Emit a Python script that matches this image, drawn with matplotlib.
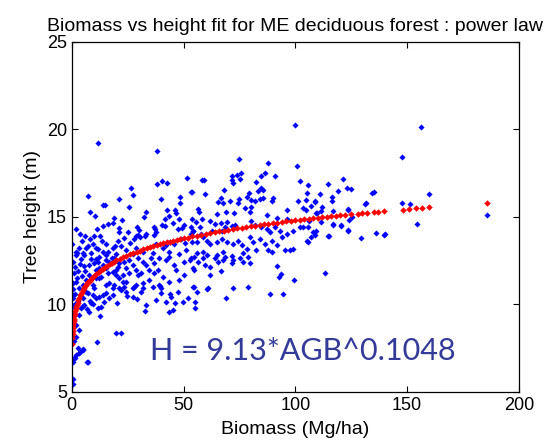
import matplotlib
matplotlib.use('Agg')
import matplotlib.pyplot as plt

plt.rcParams['font.family'] = ['Liberation Sans', 'DejaVu Sans']

# Datos observados (biomasa en Mg/ha, altura en m)
biomass = [
    11.9, 38.1, 99.7, 156.4, 147.6, 159.7, 147.6, 151.3, 154.2, 185.5,
    74.8, 87.6, 100.8, 121.4, 114.4, 51.7,
    38.1, 40.2, 42.6, 26.7, 27.4, 7.4, 53.3, 21.3, 40.1, 48.4,
    48.6, 14.9, 25.8, 8.2, 10.3, 33.1, 32.2, 42.6, 46.0, 46.8,
    43.3, 41.5, 18.9, 13.8, 16.1, 18.3, 22.6, 21.1, 21.3, 29.3,
    30.2, 29.8, 30.5, 33.2, 32.6, 36.8, 37.4, 37.8, 36.6, 40.6,
    41.8, 45.4, 47.8, 49.3, 50.2, 47.5, 53.3, 54.2, 9.8, 8.3,
    7.4, 10.9, 11.6, 9.7, 6.4, 0.3, 3.4, 15.3, 18.3, 19.4,
    16.2, 19.6, 17.9, 23.5, 28.6, 28.0, 37.7, 40.7, 42.2, 43.9,
    45.9, 48.9, 50.8, 53.2, 53.8,
    28.7, 31.7, 27.2, 36.5, 43.6, 48.1, 51.1, 8.6, 5.6, 12.4,
    15.3, 1.9, 39.2, 54.8,
    75.5, 73.7, 71.5, 71.9, 75.2, 72.3, 86.3, 84.5, 82.3, 84.5,
    83.4, 85.4, 85.7, 84.2, 81.9, 80.1, 79.1, 80.4, 79.7, 90.9,
    102.3, 105.7, 105.3, 104.6, 101.2, 104.7, 103.3, 108.8, 109.5, 107.1,
    58.3, 59.3, 53.8, 59.4, 68.2, 66.7, 65.4, 67.6, 70.9, 68.8,
    72.7, 74.9, 74.5, 77.3, 78.5, 90.1, 89.7, 96.4, 96.4, 91.9,
    87.4, 56.7, 56.9, 54.0, 58.3, 55.7, 57.4, 57.6, 54.2, 61.8,
    63.9, 66.6, 64.8, 69.3, 71.5, 73.0, 67.0, 68.5, 62.9, 80.3,
    82.1, 84.5, 87.4, 88.6, 90.9, 93.1, 96.1, 99.0, 102.0, 106.2,
    105.7, 108.0, 106.8, 105.0, 103.5, 58.8, 60.3, 55.9, 61.8, 64.8,
    67.0, 69.3, 72.3, 74.5, 76.0, 79.7, 81.2, 84.2, 86.4, 89.4,
    91.7, 93.9, 97.6, 99.1, 95.4, 58.8, 60.3, 55.9, 64.8, 67.8,
    71.5, 76.7, 78.5, 82.3, 87.6, 89.7,
    111.0, 118.9, 123.2, 124.8, 134.1, 135.3, 116.2, 116.2, 131.4, 108.7,
    112.0, 111.4, 116.9, 123.6, 109.2, 111.3, 116.7, 120.4, 124.1, 125.5,
    123.6, 109.3, 109.0, 114.7, 129.3, 136.2, 140.0, 139.8,
    113.2, 105.8, 115.1, 123.4, 131.1, 116.9, 120.6, 123.6,
    55.2, 54.9, 60.9, 66.9, 61.8, 68.8, 72.2, 78.8, 88.6, 94.6,
    91.9, 93.4, 92.8, 99.6,
    52.9, 54.4, 56.6, 58.8, 59.6, 61.8, 64.0, 65.5, 67.8, 68.5,
    71.5, 72.2, 75.2, 76.7, 78.9, 79.7,
    0.45, 0.45, 7.1, 4.9, 3.1, 1.9, 1.2, 0.7, 11.2, 19.8,
    22.0, 1.0, 1.9, 3.1, 1.9, 1.2, 0.5, 0.1, 1.6, 0.4,
    12.6, 32.8, 55.1, 46.2, 43.9, 39.5, 29.0, 24.6, 20.1, 5.2,
    6.7, 8.2, 9.7, 55.9, 60.3, 2.9, 3.7, 5.2, 1.5, 6.7,
    8.6, 10.1, 7.9, 11.6, 13.8, 12.4, 15.3, 16.8, 19.1, 21.3,
    20.5, 23.5, 25.8, 27.2, 29.5, 31.7, 33.2, 35.4, 36.9, 38.4,
    42.1, 43.6, 45.9, 46.6, 50.4, 53.3, 54.8, 54.1, 50.4, 48.1,
    34.7, 31.0, 28.7, 25.8, 22.8, 21.3, 18.3, 16.1, 13.1, 10.9,
    6.4, 4.9, 3.4, 1.9, 5.6, 7.1, 10.1, 15.3, 19.1, 22.0,
    24.3, 28.0, 31.7, 36.2, 39.9, 43.6, 47.4, 51.8, 49.6, 31.0,
    27.2, 18.3, 14.6, 16.8,
    3.4, 4.2, 5.6, 4.9, 7.9, 8.6, 6.4, 9.4, 10.9, 12.4,
    13.8, 15.3, 11.6, 13.1, 21.3, 23.5, 24.3, 27.2, 28.7, 29.5,
    33.2, 39.2, 39.9, 42.1, 43.6, 45.1, 44.4, 37.7, 31.7, 34.7,
    36.9, 40.7, 16.8, 18.3, 19.8, 22.8, 12.4, 9.4, 7.9, 10.9,
    15.3, 19.8, 24.3,
    0.7, 1.5, 0.7, 1.5, 0.7, 2.5, 1.0, 2.2, 3.0, 0.8,
    2.8, 1.3, 4.0, 5.5, 6.0, 4.5, 2.0, 3.8,
    4.5, 6.0, 12.5, 13.5, 5.0, 11.0, 14.0, 20.5, 22.0, 24.5,
    26.0, 25.0, 11.5, 3.8, 2.0, 14.1,
]
height = [
    19.23, 18.77, 20.24, 20.10, 18.40, 16.30, 15.77, 15.70, 14.57, 15.10,
    18.28, 18.05, 17.88, 17.15, 16.87, 17.23,
    16.85, 17.05, 16.90, 16.62, 16.22, 16.16, 16.40, 16.03, 16.03, 16.14,
    15.80, 15.68, 15.57, 15.29, 15.04, 15.25, 15.00, 15.38, 15.36, 15.19,
    15.04, 14.85, 14.95, 14.48, 14.61, 14.65, 14.80, 14.33, 14.12, 14.44,
    14.22, 13.95, 13.82, 13.99, 13.91, 14.44, 14.28, 14.10, 13.95, 14.53,
    14.48, 14.63, 14.86, 14.38, 14.55, 14.29, 14.42, 14.20, 13.87, 13.72,
    13.34, 13.24, 13.15, 13.43, 13.24, 13.43, 13.24, 13.43, 13.19, 13.30,
    12.96, 12.89, 12.66, 13.79, 13.89, 13.72, 13.43, 13.24, 13.37, 13.55,
    13.45, 13.70, 13.51, 13.99, 13.55,
    13.19, 13.00, 12.87, 12.91, 13.00, 12.87, 13.10, 12.91, 12.81, 12.71,
    12.81, 12.81, 12.62, 12.71,
    17.50, 17.41, 17.31, 17.12, 17.16, 16.93, 17.50, 17.31, 16.99, 16.65,
    16.46, 16.52, 16.08, 15.99, 15.89, 15.95, 16.33, 15.54, 15.29, 17.31,
    17.06, 16.83, 16.35, 15.93, 15.91, 15.40, 15.50, 15.87, 15.20, 15.63,
    17.08, 17.12, 16.44, 16.27, 16.52, 16.08, 15.85, 15.80, 15.91, 15.29,
    15.23, 16.00, 15.77, 15.50, 16.14, 16.08, 15.89, 15.40, 14.87, 14.93,
    15.12, 15.44, 15.25, 14.87, 14.87, 14.68, 14.40, 14.02, 14.21, 14.78,
    14.59, 14.63, 15.16, 14.68, 14.49, 14.53, 14.21, 14.40, 14.21, 14.78,
    14.55, 14.40, 14.30, 14.12, 14.40, 14.21, 14.02, 14.21, 14.40, 14.78,
    14.40, 14.12, 13.83, 13.64, 14.40, 13.83, 13.64, 13.55, 13.45, 13.55,
    13.75, 13.55, 13.45, 13.64, 13.36, 13.83, 13.55, 13.75, 13.45, 13.64,
    13.36, 13.83, 13.07, 13.17, 13.07, 13.00, 12.80, 12.90, 12.80, 13.00,
    12.75, 12.90, 13.17, 13.07, 13.10, 13.00,
    16.28, 16.47, 16.62, 16.56, 16.37, 16.41, 16.14, 15.87, 15.76, 15.85,
    15.53, 15.34, 15.32, 15.44, 15.20, 14.68, 14.53, 14.46, 14.84, 15.01,
    14.21, 14.21, 13.93, 13.87, 13.77, 14.08, 14.02, 13.95,
    11.80, 13.57, 13.90, 14.24, 15.72, 14.58, 14.52, 15.41,
    10.11, 10.96, 10.90, 11.91, 11.67, 10.33, 10.90, 10.96, 10.56, 10.56,
    12.20, 11.71, 11.57, 11.38,
    12.52, 12.05, 12.43, 12.62, 12.24, 12.14, 12.62, 12.43, 12.52, 12.71,
    12.33, 12.52, 12.62, 12.43, 12.71, 12.33,
    5.73, 5.44, 6.71, 7.43, 7.20, 7.10, 6.91, 6.71, 7.83, 8.37,
    8.37, 7.87, 8.15, 8.53, 8.82, 9.10, 9.39, 9.96, 9.77, 10.53,
    9.33, 9.62, 9.81, 10.09, 10.57, 11.05, 10.28, 10.47, 10.09, 9.90,
    9.71, 10.19, 10.00, 10.67, 10.86, 7.48, 7.29, 7.38, 6.91, 6.72,
    12.58, 12.33, 12.24, 12.43, 12.24, 12.05, 12.52, 12.43, 12.62, 12.33,
    12.14, 12.43, 12.52, 12.24, 12.62, 12.43, 12.24, 12.62, 12.33, 11.95,
    12.52, 12.71, 12.24, 11.95, 12.43, 12.62, 11.95, 11.00, 11.67, 11.38,
    11.95, 11.76, 11.95, 11.76, 11.67, 11.48, 11.86, 11.76, 11.57, 11.48,
    11.38, 11.10, 10.90, 11.29, 10.81, 10.62, 10.90, 11.10, 11.10, 10.81,
    10.71, 11.00, 11.19, 11.00, 10.90, 11.29, 10.71, 10.33, 10.14, 10.71,
    10.43, 10.52, 10.14, 10.33,
    9.38, 9.76, 9.95, 10.33, 9.57, 10.05, 10.71, 10.52, 10.33, 10.43,
    10.52, 10.62, 9.76, 9.86, 10.90, 11.00, 11.28, 10.90, 11.09, 11.67,
    9.95, 11.09, 10.62, 10.14, 9.57, 9.66, 10.43, 10.24, 10.90, 11.38,
    11.76, 11.57, 11.19, 10.90, 11.67, 11.28, 11.48, 11.09, 11.67, 11.95,
    12.05, 11.95, 12.05,
    12.43, 12.14, 10.86, 10.57, 10.38, 12.90, 11.80, 11.50, 11.90, 11.20,
    10.20, 10.00, 12.60, 12.20, 11.90, 11.60, 13.00, 12.30,
    13.60, 13.90, 13.90, 13.60, 12.90, 12.60, 13.00, 13.60, 13.30, 13.10,
    13.50, 14.10, 14.30, 14.00, 14.30, 15.67,
]

# Valores ajustados (puntos rojos)
fit_biomass = [
    0.2, 0.3, 0.4, 0.5, 0.6, 0.7, 0.8, 0.9, 1.0, 1.2,
    1.4, 1.6, 1.8, 2.0, 2.3, 2.6, 3.0, 3.4, 3.8, 4.2,
    4.6, 5.0, 5.5, 6.0, 6.5, 7.0, 7.5, 8.0, 8.5, 9.0,
    9.5, 10, 11, 12, 13, 14, 15, 16, 17, 18,
    19, 20, 21.5, 23, 24.5, 26, 27.5, 29, 30.5, 32,
    33.5, 35, 36.5, 38, 39.5, 41, 42.5, 44, 45.5, 47,
    48.5, 50, 52, 54, 56, 58, 60, 62, 64, 66,
    68, 70, 72, 74, 76, 78, 80, 82, 84, 86,
    88, 90, 92, 94, 96, 98, 100, 102, 104, 106,
    108, 110, 112, 114, 116, 118, 120, 122, 125, 128,
    130, 132, 135, 137, 139.5, 148, 151, 154, 156.5, 159.7,
    185.5,
]
fit_height = [
    7.71, 8.05, 8.29, 8.49, 8.65, 8.79, 8.92, 9.03, 9.13, 9.31,
    9.46, 9.59, 9.71, 9.82, 9.96, 10.09, 10.24, 10.38, 10.50, 10.61,
    10.71, 10.81, 10.92, 11.02, 11.11, 11.20, 11.28, 11.35, 11.43, 11.49,
    11.56, 11.62, 11.74, 11.85, 11.95, 12.04, 12.13, 12.21, 12.29, 12.36,
    12.43, 12.50, 12.59, 12.68, 12.77, 12.85, 12.92, 12.99, 13.06, 13.13,
    13.19, 13.25, 13.31, 13.37, 13.42, 13.47, 13.53, 13.57, 13.62, 13.67,
    13.71, 13.76, 13.81, 13.87, 13.92, 13.97, 14.02, 14.07, 14.12, 14.16,
    14.21, 14.25, 14.29, 14.33, 14.37, 14.41, 14.45, 14.49, 14.52, 14.56,
    14.60, 14.63, 14.66, 14.70, 14.73, 14.76, 14.79, 14.82, 14.85, 14.88,
    14.91, 14.94, 14.97, 15.00, 15.03, 15.05, 15.08, 15.11, 15.14, 15.18,
    15.20, 15.23, 15.27, 15.29, 15.32, 15.41, 15.45, 15.48, 15.51, 15.54,
    15.78,
]

fig = plt.figure(figsize=(5.46, 4.41), dpi=100)
ax = fig.add_axes([0.1313, 0.1118, 0.8192, 0.7936])

ax.plot(biomass, height, linestyle='none', marker='D', markersize=3.1,
        color='#0000ff', markeredgewidth=0)
ax.plot(fit_biomass, fit_height, linestyle='none', marker='D', markersize=3.3,
        color='#ff0000', markeredgewidth=0)

ax.text(35, 6.81, 'H = 9.13*AGB^0.1048', fontsize=22, color='#343a9a',
        family=['Lato', 'DejaVu Sans'], va='baseline', ha='left')

ax.set_xlim(0, 200)
ax.set_ylim(5, 25)
ax.set_xticks([0, 50, 100, 150, 200])
ax.set_yticks([5, 10, 15, 20, 25])
ax.tick_params(direction='in', top=True, right=True, length=4, labelsize=13,
               width=0.8)
for spine in ax.spines.values():
    spine.set_linewidth(0.9)

ax.set_title('Biomass vs height fit for ME deciduous forest : power law',
             fontsize=14, pad=8)
ax.set_xlabel('Biomass (Mg/ha)', fontsize=14, labelpad=5)
ax.set_ylabel('Tree height (m)', fontsize=14, labelpad=4)

fig.savefig('out.png', dpi=100)
